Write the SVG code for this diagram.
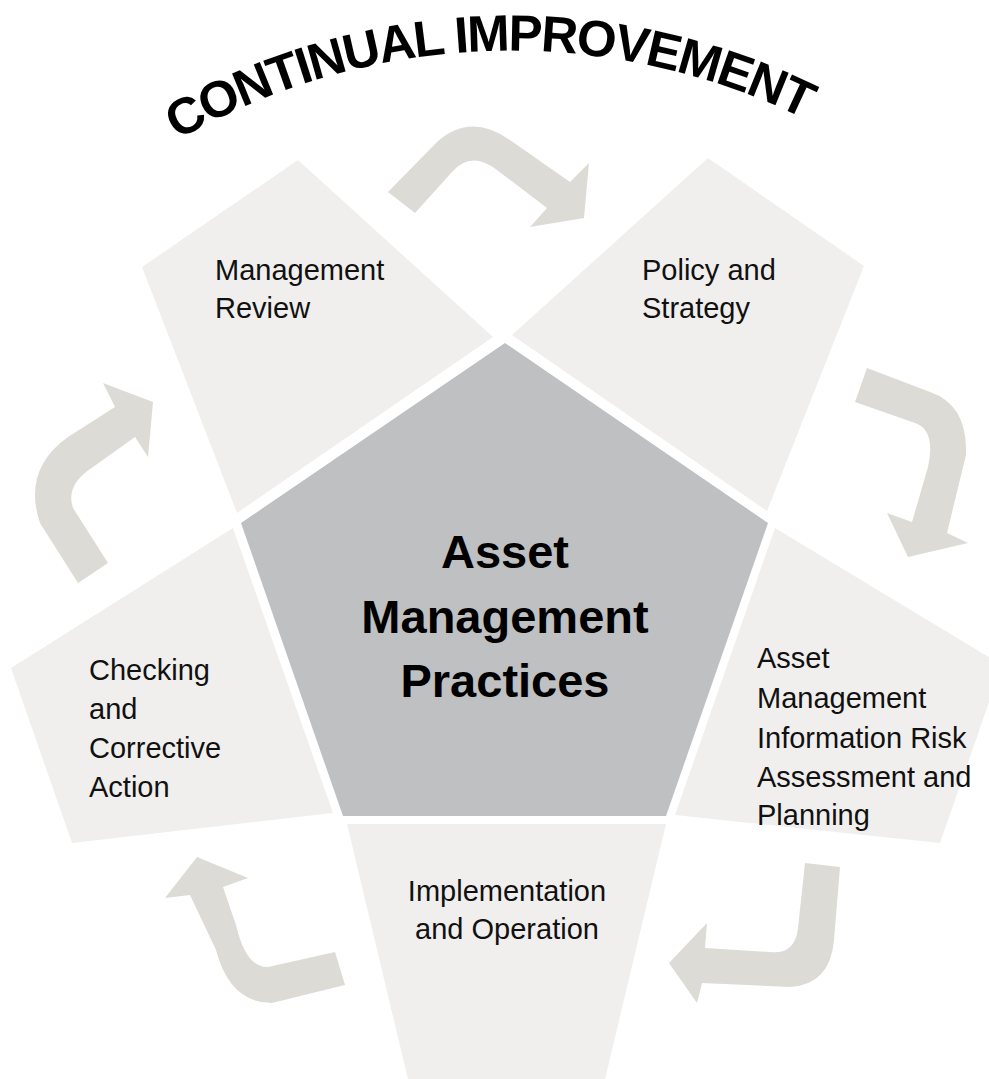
<svg xmlns="http://www.w3.org/2000/svg" width="989" height="1079" viewBox="0 0 989 1079">
<defs>
<style>
.seg{fill:#F0EFED}
.core{fill:#BFC0C2}
.arr{fill:#DDDBD5}
.lbl{font-family:"Liberation Sans",Arial,sans-serif;font-size:29px;fill:#111}
.ctr{font-family:"Liberation Sans",Arial,sans-serif;font-size:47px;font-weight:bold;fill:#000;text-anchor:middle}
.ttl{font-family:"Liberation Sans",Arial,sans-serif;font-size:51px;font-weight:bold;fill:#000;letter-spacing:-2px}
</style>
<path id="arc" d="M 61.2 206.4 A 664 664 0 0 1 914.8 206.4"/>
</defs>
<rect width="989" height="1079" fill="#fff"/>
<g id="title" transform="rotate(-2 488 60)">
<text class="ttl"><textPath href="#arc" startOffset="50%" text-anchor="middle">CONTINUAL IMPROVEMENT</textPath></text>
</g>
<g id="connectors">
<path class="arr" d="M388,192 L437,142 Q470,112 510,140 L570,182 L589,163 L584,218 L530,227 L547,208 L497,170 Q471,150 452,172 L415,213 Z"/>
<path class="arr" d="M867,368 L930,392 Q968,405 966,455 L947,533 L968,543 L908,557 L887,513 L912,522 L928,467 Q936,430 915,423 L855,402 Z"/>
<path class="arr" d="M840,867 L834,940 Q830,985 790,987 L702,983 L697,1003 L669,963 L707,923 L705,948 L770,952 Q795,955 798,928 L805,863 Z"/>
<path class="arr" d="M345,985 L272,1003 Q230,1003 216,950 L190,895 L165,898 L197,857 L248,878 L223,887 L236,925 Q246,968 268,967 L335,952 Z"/>
<path class="arr" d="M78,583 L40,523 Q22,470 68,437 L115,407 L103,383 L153,402 L148,457 L135,437 L93,467 Q65,485 73,508 L108,563 Z"/>
</g>
<g id="management-review">
<polygon class="seg" points="298,160 493,337 237,513 142,267"/>
<text class="lbl" x="215" y="280">Management</text>
<text class="lbl" x="215" y="318">Review</text>
</g>
<g id="policy-strategy">
<polygon class="seg" points="708,158 864,266 767,511 512,335"/>
<text class="lbl" x="642" y="280">Policy and</text>
<text class="lbl" x="642" y="318">Strategy</text>
</g>
<g id="risk-planning">
<polygon class="seg" points="775,528 1002,665 940,843 675,815"/>
<text class="lbl" x="757" y="668">Asset</text>
<text class="lbl" x="757" y="708">Management</text>
<text class="lbl" x="757" y="748">Information Risk</text>
<text class="lbl" x="757" y="787">Assessment and</text>
<text class="lbl" x="757" y="825">Planning</text>
</g>
<g id="implementation">
<polygon class="seg" points="347,824 666,824 601,1096 412,1096"/>
<text class="lbl" x="507" y="901" text-anchor="middle">Implementation</text>
<text class="lbl" x="507" y="939" text-anchor="middle">and Operation</text>
</g>
<g id="checking">
<polygon class="seg" points="233,528 333,813 72,843 11,668"/>
<text class="lbl" x="89" y="680">Checking</text>
<text class="lbl" x="89" y="719">and</text>
<text class="lbl" x="89" y="758">Corrective</text>
<text class="lbl" x="89" y="797">Action</text>
</g>
<g id="core">
<polygon class="core" points="505,343 768,523 666,816 343,816 241,523"/>
<text class="ctr" x="505" y="568">Asset</text>
<text class="ctr" x="505" y="633">Management</text>
<text class="ctr" x="505" y="697">Practices</text>
</g>
</svg>
